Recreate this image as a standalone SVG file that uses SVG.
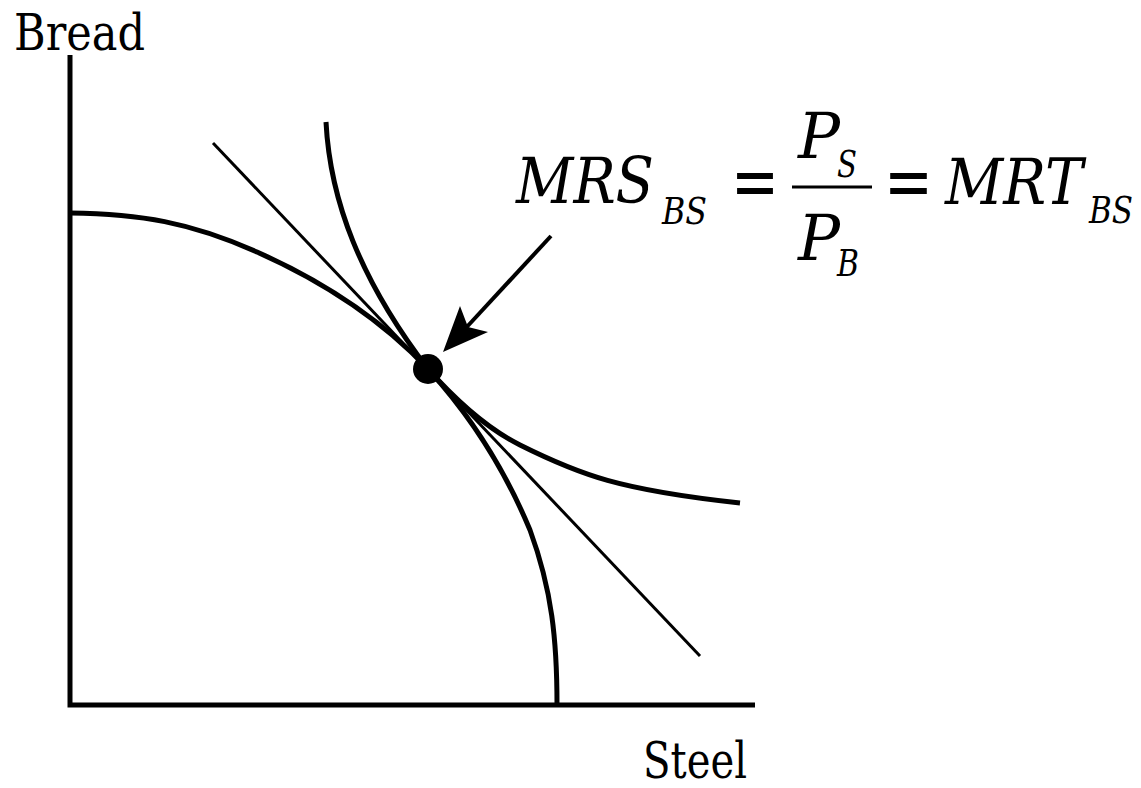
<svg xmlns="http://www.w3.org/2000/svg" width="1141" height="788" viewBox="0 0 1141 788">
<style>
.axis{fill:none;stroke:#000;stroke-width:5;stroke-linecap:butt}
.curve{fill:none;stroke:#000;stroke-width:5;stroke-linejoin:round;stroke-linecap:butt}
.thin{fill:none;stroke:#000;stroke-width:3}
text{font-family:'DejaVu Serif',serif;fill:#000}
.lbl{font-size:51px}
.eq{font-style:italic;font-size:64px}
.sub{font-style:italic;font-size:38px}
.op{font-size:76px}
</style>
<rect width="1141" height="788" fill="#fff"/>
<g id="axes">
<path class="axis" d="M70,55 V705 H755"/>
<text class="lbl" x="14" y="50" textLength="131" lengthAdjust="spacingAndGlyphs">Bread</text>
<text class="lbl" x="643" y="778" textLength="104" lengthAdjust="spacingAndGlyphs">Steel</text>
</g>
<g id="connectors">
<path id="ppf" class="curve" d="M70,213 C140,214 190,222 257,252 C320,280 380,318 428,369 C470,415 505,470 530,530 C552,590 557,640 557,705"/>
<path id="indiff" class="curve" d="M326,122 C330,200 360,280 428,369 C460,405 490,430 520,445 C580,475 620,490 740,503"/>
<line id="price" class="thin" x1="213" y1="143" x2="700" y2="656"/>
<line x1="551" y1="236" x2="464" y2="330" stroke="#000" stroke-width="4"/>
<polygon points="443,352 460,306 468,327 488,332" fill="#000"/>
</g>
<g id="point">
<circle cx="428" cy="369" r="15" fill="#000"/>
</g>
<g id="equation">
<text class="eq" x="516" y="203" textLength="138" lengthAdjust="spacingAndGlyphs">MRS</text>
<text class="sub" x="662" y="224" textLength="45" lengthAdjust="spacingAndGlyphs">BS</text>
<text class="op" x="731" y="207" textLength="48" lengthAdjust="spacingAndGlyphs">=</text>
<line x1="792" y1="187" x2="872" y2="187" stroke="#000" stroke-width="3"/>
<text class="eq" x="798" y="158" textLength="42" lengthAdjust="spacingAndGlyphs">P</text>
<text class="sub" x="837" y="177" textLength="20" lengthAdjust="spacingAndGlyphs">S</text>
<text class="eq" x="798" y="260" textLength="42" lengthAdjust="spacingAndGlyphs">P</text>
<text class="sub" x="837" y="276" textLength="22" lengthAdjust="spacingAndGlyphs">B</text>
<text class="op" x="884" y="207" textLength="49" lengthAdjust="spacingAndGlyphs">=</text>
<text class="eq" x="945" y="204" textLength="138" lengthAdjust="spacingAndGlyphs">MRT</text>
<text class="sub" x="1089" y="223" textLength="44" lengthAdjust="spacingAndGlyphs">BS</text>
</g>
</svg>
